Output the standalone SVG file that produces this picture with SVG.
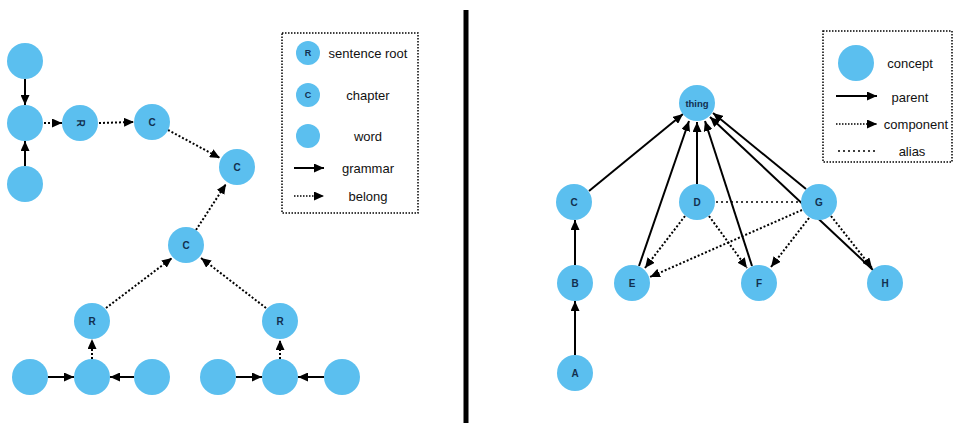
<svg xmlns="http://www.w3.org/2000/svg" width="969" height="433" viewBox="0 0 969 433">
<style>
.n{fill:#5BBFEF}
.lbl{font-family:"Liberation Sans",Arial,sans-serif;font-size:10px;font-weight:bold;fill:#12304f;text-anchor:middle;dominant-baseline:central}
.lg{font-family:"Liberation Sans",Arial,sans-serif;font-size:13px;fill:#111;text-anchor:middle;dominant-baseline:central}
.s{stroke:#000;stroke-width:2;fill:none}
.d{stroke:#000;stroke-width:2;fill:none;stroke-dasharray:2 2}
.a{stroke:#000;stroke-width:1.6;fill:none;stroke-dasharray:2 3}
.box{fill:none;stroke:#000;stroke-width:1.5;stroke-dasharray:1.5 1.5}
</style>
<defs>
<marker id="ah" markerWidth="10" markerHeight="9" refX="10" refY="4.5" orient="auto" markerUnits="userSpaceOnUse">
<path d="M0,0 L10,4.5 L0,9 z" fill="#000"/>
</marker>
</defs>
<rect width="969" height="433" fill="#fff"/>
<line x1="466" y1="10" x2="466" y2="423" stroke="#000" stroke-width="5"/>

<g id="connectors">
<!-- left -->
<line class="s" x1="25" y1="79" x2="25" y2="105" marker-end="url(#ah)"/>
<line class="s" x1="25" y1="166" x2="25" y2="141" marker-end="url(#ah)"/>
<line class="d" x1="44" y1="123" x2="62" y2="123" marker-end="url(#ah)"/>
<line class="d" x1="99" y1="123" x2="134" y2="122" marker-end="url(#ah)"/>
<line class="d" x1="168" y1="130" x2="220" y2="158" marker-end="url(#ah)"/>
<line class="d" x1="196" y1="230" x2="226" y2="184" marker-end="url(#ah)"/>
<line class="d" x1="106" y1="308" x2="172" y2="258" marker-end="url(#ah)"/>
<line class="d" x1="266" y1="308" x2="201" y2="258" marker-end="url(#ah)"/>
<line class="s" x1="48" y1="377" x2="74" y2="377" marker-end="url(#ah)"/>
<line class="s" x1="134" y1="377" x2="110" y2="377" marker-end="url(#ah)"/>
<line class="d" x1="92" y1="359" x2="92" y2="339" marker-end="url(#ah)"/>
<line class="s" x1="236" y1="377" x2="262" y2="377" marker-end="url(#ah)"/>
<line class="s" x1="324" y1="377" x2="298" y2="377" marker-end="url(#ah)"/>
<line class="d" x1="280" y1="359" x2="280" y2="340" marker-end="url(#ah)"/>
<!-- right -->
<line class="s" x1="589" y1="191" x2="683" y2="114" marker-end="url(#ah)"/>
<line class="s" x1="575" y1="265" x2="575" y2="220" marker-end="url(#ah)"/>
<line class="s" x1="575" y1="355" x2="575" y2="301" marker-end="url(#ah)"/>
<line class="s" x1="697" y1="184" x2="697" y2="122" marker-end="url(#ah)"/>
<line class="s" x1="639" y1="266" x2="689" y2="121" marker-end="url(#ah)"/>
<line class="s" x1="752" y1="266" x2="705" y2="121" marker-end="url(#ah)"/>
<line class="s" x1="806" y1="189" x2="713" y2="113" marker-end="url(#ah)"/>
<line class="s" x1="873" y1="270" x2="710" y2="117" marker-end="url(#ah)"/>
<line class="a" x1="716" y1="202" x2="801" y2="202"/>
<line class="d" x1="685" y1="216" x2="645" y2="268" marker-end="url(#ah)"/>
<line class="d" x1="709" y1="216" x2="747" y2="268" marker-end="url(#ah)"/>
<line class="d" x1="802" y1="210" x2="650" y2="277" marker-end="url(#ah)"/>
<line class="d" x1="809" y1="218" x2="771" y2="267" marker-end="url(#ah)"/>
<line class="d" x1="831" y1="216" x2="872" y2="268" marker-end="url(#ah)"/>
</g>

<g id="w-top"><circle class="n" cx="25" cy="61" r="18"/></g>
<g id="w-mid"><circle class="n" cx="25" cy="123" r="18"/></g>
<g id="w-bot"><circle class="n" cx="25" cy="184" r="18"/></g>
<g id="r-top"><circle class="n" cx="80" cy="123" r="18"/><text class="lbl" x="80" y="123" transform="rotate(90 80 123)">R</text></g>
<g id="c1"><circle class="n" cx="152" cy="122" r="18"/><text class="lbl" x="152" y="122">C</text></g>
<g id="c2"><circle class="n" cx="237" cy="167" r="18"/><text class="lbl" x="237" y="167">C</text></g>
<g id="c3"><circle class="n" cx="186" cy="245" r="18"/><text class="lbl" x="186" y="245">C</text></g>
<g id="r-left"><circle class="n" cx="92" cy="321" r="18"/><text class="lbl" x="92" y="321">R</text></g>
<g id="r-right"><circle class="n" cx="280" cy="321" r="18"/><text class="lbl" x="280" y="321">R</text></g>
<g id="w1"><circle class="n" cx="30" cy="377" r="18"/></g>
<g id="w2"><circle class="n" cx="92" cy="377" r="18"/></g>
<g id="w3"><circle class="n" cx="152" cy="377" r="18"/></g>
<g id="w4"><circle class="n" cx="218" cy="377" r="18"/></g>
<g id="w5"><circle class="n" cx="280" cy="377" r="18"/></g>
<g id="w6"><circle class="n" cx="342" cy="377" r="18"/></g>

<g id="legend-left">
<rect class="box" x="282" y="33" width="136" height="180"/>
<circle class="n" cx="308" cy="53" r="12"/><text class="lbl" x="308" y="53" style="font-size:9px">R</text>
<text class="lg" x="368" y="53">sentence root</text>
<circle class="n" cx="308" cy="95" r="12"/><text class="lbl" x="308" y="95" style="font-size:9px">C</text>
<text class="lg" x="368" y="95">chapter</text>
<circle class="n" cx="308" cy="136" r="12"/>
<text class="lg" x="368" y="136">word</text>
<line class="s" x1="294" y1="168" x2="324" y2="168" marker-end="url(#ah)"/>
<text class="lg" x="368" y="168">grammar</text>
<line class="d" x1="294" y1="196" x2="324" y2="196" style="stroke-width:1.5;stroke-dasharray:1.5 1.5" marker-end="url(#ah)"/>
<text class="lg" x="368" y="196">belong</text>
</g>

<g id="thing"><circle class="n" cx="697" cy="103" r="18"/><text class="lbl" x="697" y="103" style="font-size:9.5px">thing</text></g>
<g id="C"><circle class="n" cx="574" cy="202" r="18"/><text class="lbl" x="574" y="202">C</text></g>
<g id="D"><circle class="n" cx="697" cy="202" r="18"/><text class="lbl" x="697" y="202">D</text></g>
<g id="G"><circle class="n" cx="819" cy="202" r="18"/><text class="lbl" x="819" y="202">G</text></g>
<g id="B"><circle class="n" cx="575" cy="283" r="18"/><text class="lbl" x="575" y="283">B</text></g>
<g id="E"><circle class="n" cx="632" cy="283" r="18"/><text class="lbl" x="632" y="283">E</text></g>
<g id="F"><circle class="n" cx="759" cy="283" r="18"/><text class="lbl" x="759" y="283">F</text></g>
<g id="H"><circle class="n" cx="885" cy="283" r="18"/><text class="lbl" x="885" y="283">H</text></g>
<g id="A"><circle class="n" cx="575" cy="373" r="18"/><text class="lbl" x="575" y="373">A</text></g>

<g id="legend-right">
<rect class="box" x="823" y="31" width="129" height="131"/>
<circle class="n" cx="856" cy="63" r="18"/>
<text class="lg" x="910" y="63">concept</text>
<line class="s" x1="836" y1="96" x2="877" y2="96" marker-end="url(#ah)"/>
<text class="lg" x="910" y="97">parent</text>
<line class="d" x1="836" y1="124" x2="877" y2="124" style="stroke-width:1.5;stroke-dasharray:1.5 1.5" marker-end="url(#ah)"/>
<text class="lg" x="916" y="124">component</text>
<line class="a" x1="838" y1="151" x2="876" y2="151" style="stroke-width:1.3"/>
<text class="lg" x="912" y="151">alias</text>
</g>
</svg>
